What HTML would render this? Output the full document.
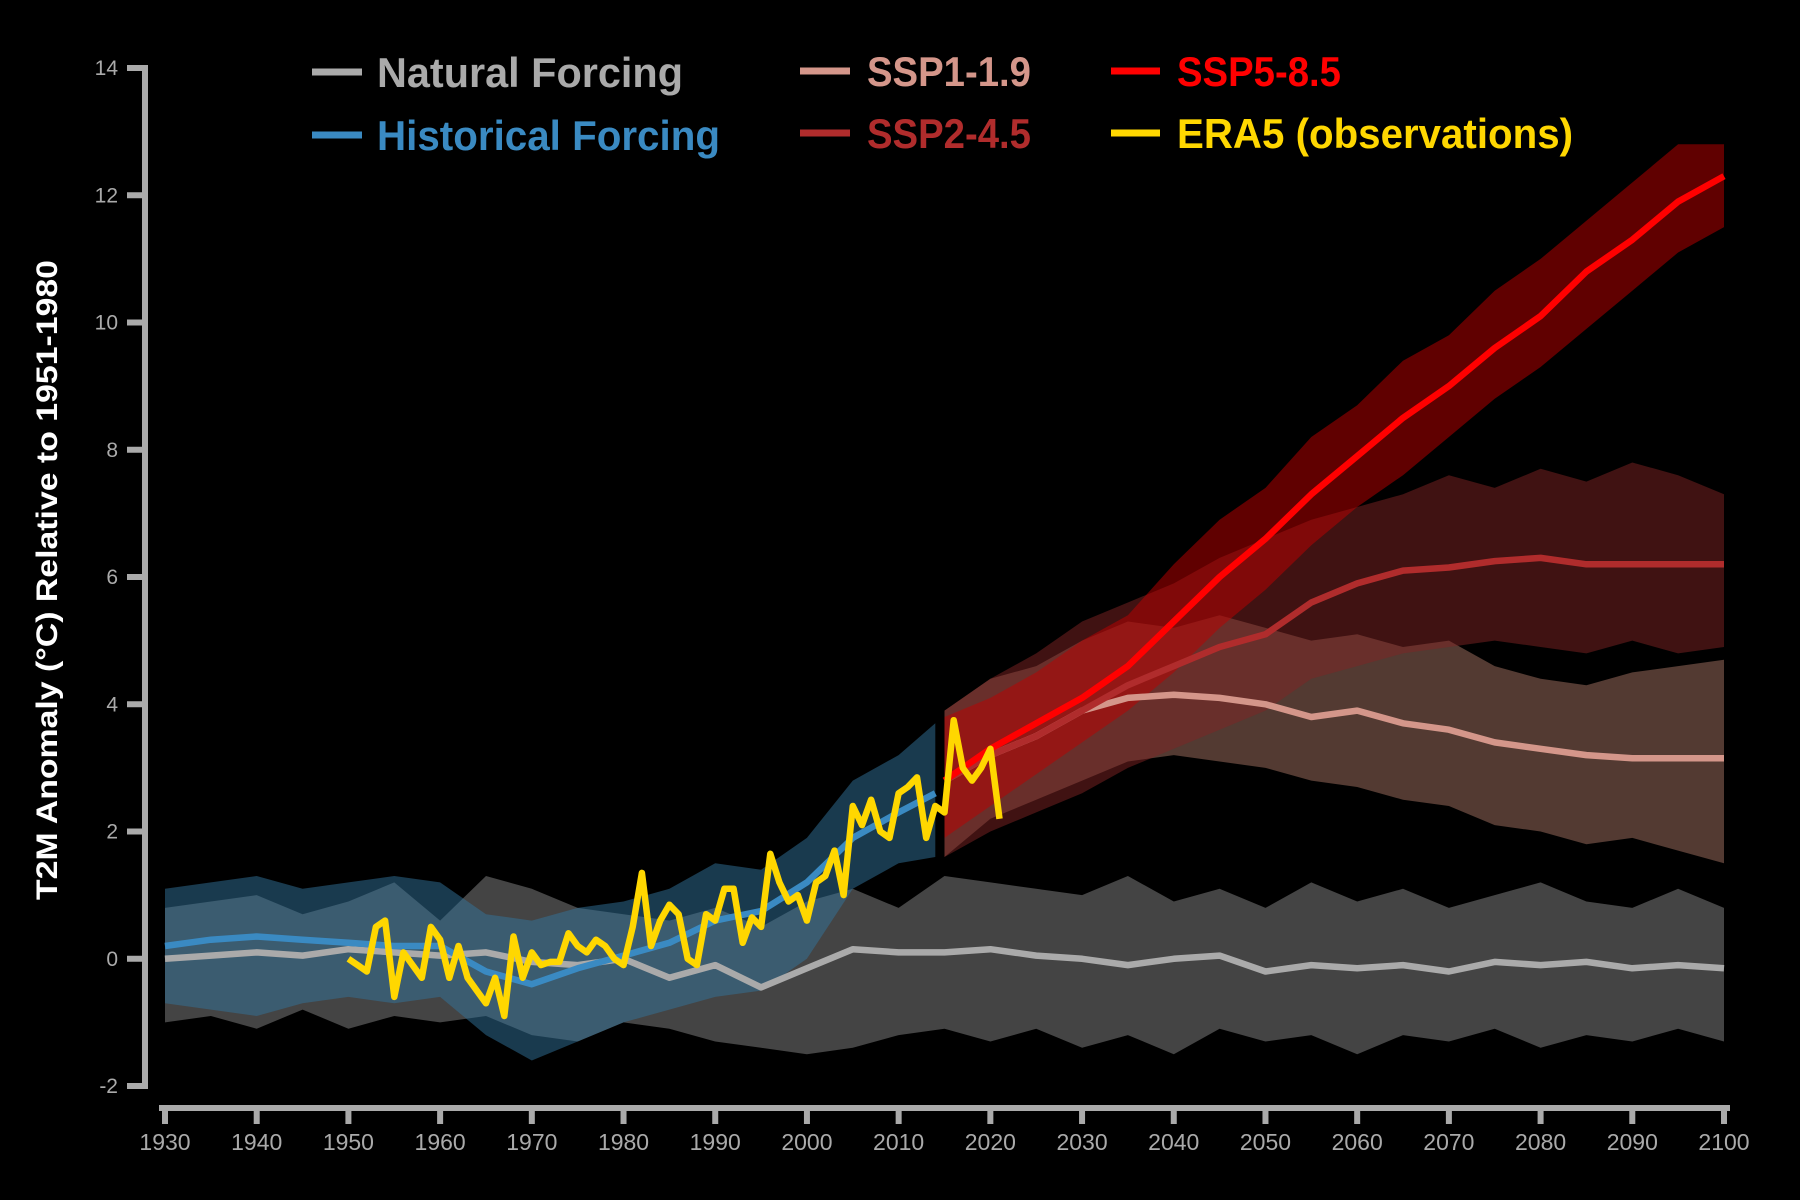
<!DOCTYPE html>
<html><head><meta charset="utf-8"><style>
html,body{margin:0;padding:0;background:#000;}
svg{display:block;font-family:"Liberation Sans",sans-serif;}
</style></head><body>
<svg id="chart" width="1800" height="1200" viewBox="0 0 1800 1200">
<rect width="1800" height="1200" fill="#000"/>
<g id="bands"></g>
<g id="lines"></g>
<g id="axes"></g>
<text x="57" y="580" transform="rotate(-90 57 580)" text-anchor="middle" fill="#fff" font-weight="bold" font-size="30" textLength="640" lengthAdjust="spacingAndGlyphs">T2M Anomaly (°C) Relative to 1951-1980</text>
<g>
<g><line x1="312" y1="72" x2="362" y2="72" stroke="#aaaaaa" stroke-width="7"/><text x="377" y="87" fill="#aaaaaa" font-size="42" font-weight="bold" textLength="306" lengthAdjust="spacingAndGlyphs">Natural Forcing</text></g>
<g><line x1="312" y1="135" x2="362" y2="135" stroke="#3a8ac2" stroke-width="7"/><text x="377" y="150" fill="#3a8ac2" font-size="42" font-weight="bold" textLength="343" lengthAdjust="spacingAndGlyphs">Historical Forcing</text></g>
<g><line x1="800" y1="71" x2="850" y2="71" stroke="#d4968a" stroke-width="7"/><text x="867" y="86" fill="#d4968a" font-size="42" font-weight="bold" textLength="164" lengthAdjust="spacingAndGlyphs">SSP1-1.9</text></g>
<g><line x1="800" y1="133" x2="850" y2="133" stroke="#b02c2c" stroke-width="7"/><text x="867" y="148" fill="#b02c2c" font-size="42" font-weight="bold" textLength="164" lengthAdjust="spacingAndGlyphs">SSP2-4.5</text></g>
<g><line x1="1111" y1="71" x2="1160" y2="71" stroke="#ff0000" stroke-width="7"/><text x="1177" y="86" fill="#ff0000" font-size="42" font-weight="bold" textLength="164" lengthAdjust="spacingAndGlyphs">SSP5-8.5</text></g>
<g><line x1="1111" y1="133" x2="1160" y2="133" stroke="#ffd700" stroke-width="7"/><text x="1177" y="148" fill="#ffd700" font-size="42" font-weight="bold" textLength="396" lengthAdjust="spacingAndGlyphs">ERA5 (observations)</text></g>
</g>
</svg>
<script>
const yTicks = [-2, 0, 2, 4, 6, 8, 10, 12, 14];
const xTicks = [1930,1940,1950,1960,1970,1980,1990,2000,2010,2020,2030,2040,2050,2060,2070,2080,2090,2100];

const natYears = [1930,1935,1940,1945,1950,1955,1960,1965,1970,1975,1980,1985,1990,1995,2000,2005,2010,2015,2020,2025,2030,2035,2040,2045,2050,2055,2060,2065,2070,2075,2080,2085,2090,2095,2100];
const natMean = [0,0.05,0.1,0.05,0.15,0.1,0.05,0.1,-0.05,-0.1,0.0,-0.3,-0.1,-0.45,-0.15,0.15,0.1,0.1,0.15,0.05,0.0,-0.1,0.0,0.05,-0.2,-0.1,-0.15,-0.1,-0.2,-0.05,-0.1,-0.05,-0.15,-0.1,-0.15];
const natUpper = [0.8,0.9,1.0,0.7,0.9,1.2,0.6,1.3,1.1,0.8,0.7,0.6,0.8,0.5,0.9,1.1,0.8,1.3,1.2,1.1,1.0,1.3,0.9,1.1,0.8,1.2,0.9,1.1,0.8,1.0,1.2,0.9,0.8,1.1,0.8];
const natLower = [-1.0,-0.9,-1.1,-0.8,-1.1,-0.9,-1.0,-0.9,-1.2,-1.3,-1.0,-1.1,-1.3,-1.4,-1.5,-1.4,-1.2,-1.1,-1.3,-1.1,-1.4,-1.2,-1.5,-1.1,-1.3,-1.2,-1.5,-1.2,-1.3,-1.1,-1.4,-1.2,-1.3,-1.1,-1.3];

const histYears = [1930,1935,1940,1945,1950,1955,1960,1965,1970,1975,1980,1985,1990,1995,2000,2005,2010,2014];
const histMean = [0.2,0.3,0.35,0.3,0.25,0.2,0.2,-0.2,-0.4,-0.15,0.05,0.25,0.6,0.75,1.2,1.9,2.3,2.6];
const histUpper = [1.1,1.2,1.3,1.1,1.2,1.3,1.2,0.7,0.6,0.8,0.9,1.1,1.5,1.4,1.9,2.8,3.2,3.7];
const histLower = [-0.7,-0.8,-0.9,-0.7,-0.6,-0.7,-0.6,-1.2,-1.6,-1.3,-1.0,-0.8,-0.6,-0.5,0.0,1.1,1.5,1.6];

const sspYears = [2015,2020,2025,2030,2035,2040,2045,2050,2055,2060,2065,2070,2075,2080,2085,2090,2095,2100];
const ssp585Mean = [2.8,3.3,3.7,4.1,4.6,5.3,6.0,6.6,7.3,7.9,8.5,9.0,9.6,10.1,10.8,11.3,11.9,12.3];
const ssp585Upper = [3.8,4.1,4.5,5.0,5.4,6.2,6.9,7.4,8.2,8.7,9.4,9.8,10.5,11.0,11.6,12.2,12.8,12.8];
const ssp585Lower = [1.9,2.4,2.9,3.4,3.9,4.5,5.2,5.8,6.5,7.1,7.6,8.2,8.8,9.3,9.9,10.5,11.1,11.5];
const ssp245Mean = [2.8,3.2,3.5,3.9,4.3,4.6,4.9,5.1,5.6,5.9,6.1,6.15,6.25,6.3,6.2,6.2,6.2,6.2];
const ssp245Upper = [3.9,4.4,4.8,5.3,5.6,5.9,6.3,6.6,6.9,7.1,7.3,7.6,7.4,7.7,7.5,7.8,7.6,7.3];
const ssp245Lower = [1.6,2.0,2.3,2.6,3.0,3.3,3.6,3.9,4.4,4.6,4.8,4.9,5.0,4.9,4.8,5.0,4.8,4.9];
const ssp119Mean = [2.8,3.2,3.5,3.9,4.1,4.15,4.1,4.0,3.8,3.9,3.7,3.6,3.4,3.3,3.2,3.15,3.15,3.15];
const ssp119Upper = [3.9,4.4,4.6,5.0,5.3,5.2,5.4,5.2,5.0,5.1,4.9,5.0,4.6,4.4,4.3,4.5,4.6,4.7];
const ssp119Lower = [1.6,2.2,2.5,2.8,3.1,3.2,3.1,3.0,2.8,2.7,2.5,2.4,2.1,2.0,1.8,1.9,1.7,1.5];

const eraStart = 1950;
const eraValues = [0.0,-0.1,-0.2,0.5,0.6,-0.6,0.1,-0.1,-0.3,0.5,0.3,-0.3,0.2,-0.3,-0.5,-0.7,-0.3,-0.9,0.35,-0.3,0.1,-0.1,-0.05,-0.05,0.4,0.2,0.1,0.3,0.2,0.0,-0.1,0.5,1.35,0.2,0.6,0.85,0.7,0.0,-0.1,0.7,0.6,1.1,1.1,0.25,0.65,0.5,1.65,1.2,0.9,1.0,0.6,1.2,1.3,1.7,1.0,2.4,2.1,2.5,2.0,1.9,2.6,2.7,2.85,1.9,2.4,2.3,3.75,3.0,2.8,3.0,3.3,2.2];

const NS = 'http://www.w3.org/2000/svg';
function xs(yr){ return 165 + (yr - 1930) * (1724 - 165) / 170; }
function ys(v){ return 1086 - (v + 2) * (1086 - 68) / 16; }
function mk(tag, attrs, parent){ const e = document.createElementNS(NS, tag); for (const k in attrs) e.setAttribute(k, attrs[k]); parent.appendChild(e); return e; }
function bandPath(years, up, lo){
  let d = '';
  years.forEach((y,i)=>{ d += (i?'L':'M') + xs(y).toFixed(1) + ',' + ys(up[i]).toFixed(1); });
  for (let i = years.length-1; i >= 0; i--) d += 'L' + xs(years[i]).toFixed(1) + ',' + ys(lo[i]).toFixed(1);
  return d + 'Z';
}
function linePath(years, vals){
  return years.map((y,i)=>(i?'L':'M') + xs(y).toFixed(1) + ',' + ys(vals[i]).toFixed(1)).join('');
}
const bands = document.getElementById('bands');
const lines = document.getElementById('lines');
const axes = document.getElementById('axes');

let el;
el = mk('path', {d: bandPath(natYears, natUpper, natLower), fill: '#444444'}, bands);


el = mk('path', {d: bandPath(histYears, histUpper, histLower), fill: 'rgba(50,115,155,0.5)'}, bands);


el = mk('path', {d: bandPath(sspYears, ssp119Upper, ssp119Lower), fill: 'rgba(166,116,100,0.5)'}, bands);


el = mk('path', {d: bandPath(sspYears, ssp245Upper, ssp245Lower), fill: 'rgba(128,36,36,0.5)'}, bands);


el = mk('path', {d: bandPath(sspYears, ssp585Upper, ssp585Lower), fill: 'rgba(192,0,0,0.5)'}, bands);



const lineCommon = {fill: 'none', 'stroke-width': 6.5, 'stroke-linejoin': 'round'};
el = mk('path', Object.assign({d: linePath(natYears, natMean), stroke: '#aaaaaa'}, lineCommon), lines);


el = mk('path', Object.assign({d: linePath(histYears, histMean), stroke: '#3a8ac2'}, lineCommon), lines);


el = mk('path', Object.assign({d: linePath(sspYears, ssp119Mean), stroke: '#d4968a'}, lineCommon), lines);


el = mk('path', Object.assign({d: linePath(sspYears, ssp245Mean), stroke: '#b02c2c'}, lineCommon), lines);


el = mk('path', Object.assign({d: linePath(sspYears, ssp585Mean), stroke: '#ff0000'}, lineCommon), lines);


const eraYears = eraValues.map((v,i)=>eraStart + i);
el = mk('path', Object.assign({d: linePath(eraYears, eraValues), stroke: '#ffd700'}, lineCommon), lines);



// axes
el = mk('line', {x1: 145, y1: ys(14), x2: 145, y2: ys(-2), stroke: '#aaaaaa', 'stroke-width': 6}, axes);


yTicks.forEach(t=>{
  const tk = mk('line', {x1: 127, y1: ys(t), x2: 148, y2: ys(t), stroke: '#aaaaaa', 'stroke-width': 6}, axes);
  
  
  const lb = mk('text', {x: 118, y: ys(t) + 7, 'text-anchor': 'end', fill: '#aaaaaa', 'font-size': 21}, axes);
  lb.textContent = t;
  
  
});
el = mk('line', {x1: xs(1930) - 3, y1: 1108, x2: xs(2100) + 3, y2: 1108, stroke: '#aaaaaa', 'stroke-width': 6, 'stroke-linecap': 'square'}, axes);


xTicks.forEach(t=>{
  const tk = mk('line', {x1: xs(t), y1: 1106, x2: xs(t), y2: 1124, stroke: '#aaaaaa', 'stroke-width': 6}, axes);
  
  
  const lb = mk('text', {x: xs(t), y: 1150, 'text-anchor': 'middle', fill: '#aaaaaa', 'font-size': 23}, axes);
  lb.textContent = t;
  
  
});
</script>
</body></html>
